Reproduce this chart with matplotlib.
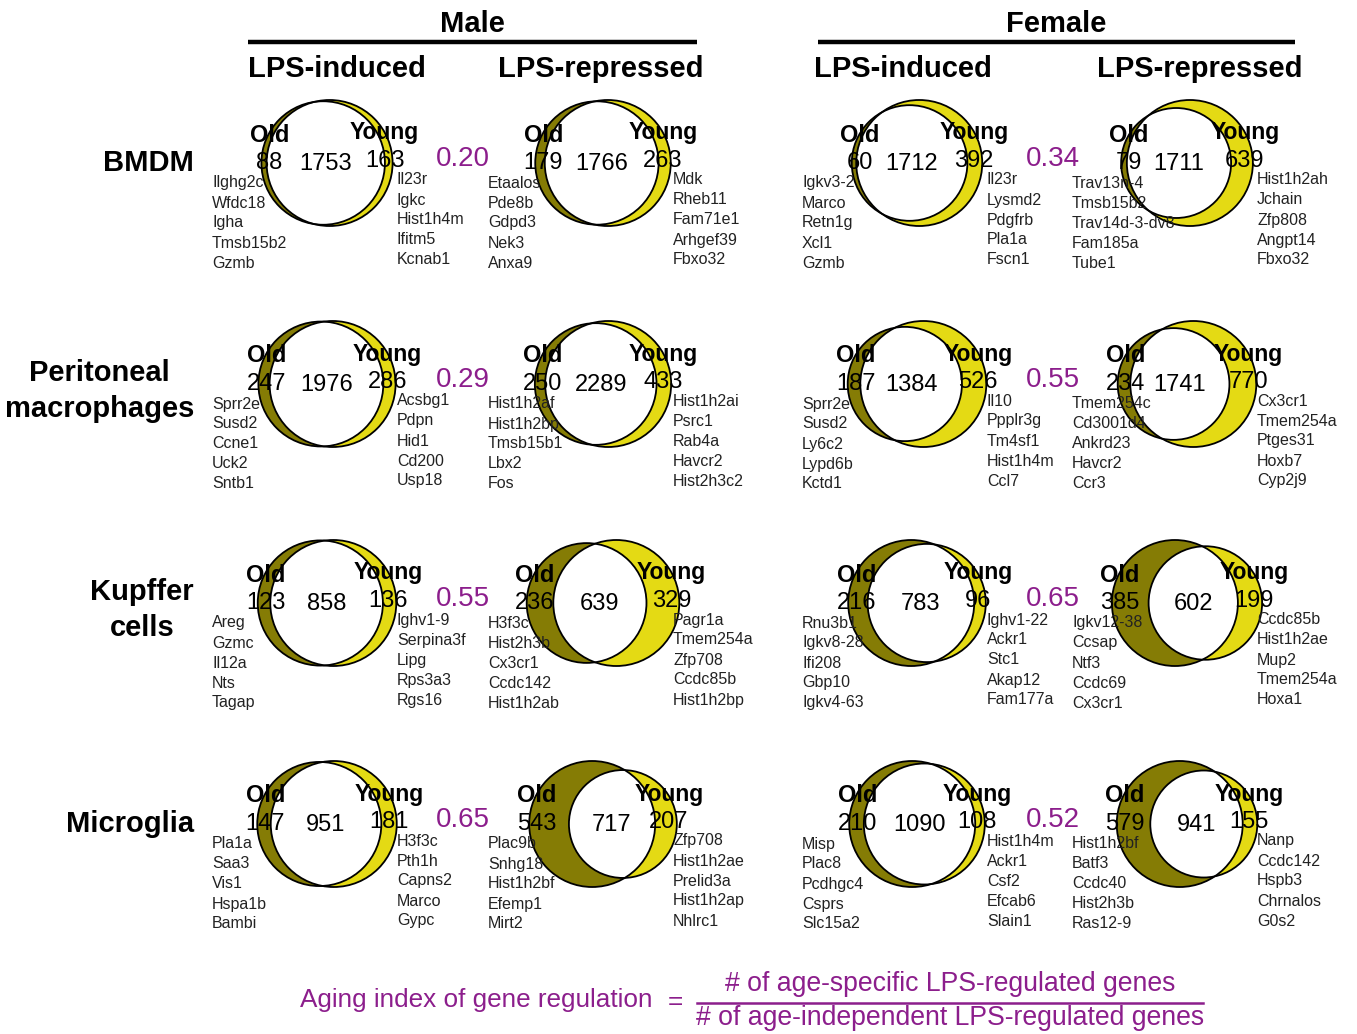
import numpy as np
import matplotlib
matplotlib.use("Agg")
import matplotlib.pyplot as plt
from matplotlib.patches import Circle

plt.rcParams['font.family'] = ['Liberation Sans', 'DejaVu Sans']

# ---- data ----
sexes = ['Male', 'Female']
panels = ['LPS-induced', 'LPS-repressed', 'LPS-induced', 'LPS-repressed']
cells = ['BMDM', 'Peritoneal\nmacrophages', 'Kupffer\ncells', 'Microglia']

# rows = cell types, cols = male induced, male repressed, female induced, female repressed
old_only = [[88, 179, 60, 79],
            [247, 250, 187, 234],
            [123, 236, 216, 385],
            [147, 543, 210, 579]]
shared = [[1753, 1766, 1712, 1711],
          [1976, 2289, 1384, 1741],
          [858, 639, 783, 602],
          [951, 717, 1090, 941]]
young_only = [[163, 263, 392, 639],
              [286, 433, 526, 770],
              [136, 329, 96, 199],
              [181, 207, 108, 155]]

old_genes = [
    [['Ilghg2c', 'Wfdc18', 'Igha', 'Tmsb15b2', 'Gzmb'],
     ['Etaalos', 'Pde8b', 'Gdpd3', 'Nek3', 'Anxa9'],
     ['Igkv3-2', 'Marco', 'Retn1g', 'Xcl1', 'Gzmb'],
     ['Trav13n-4', 'Tmsb15b2', 'Trav14d-3-dv8', 'Fam185a', 'Tube1']],
    [['Sprr2e', 'Susd2', 'Ccne1', 'Uck2', 'Sntb1'],
     ['Hist1h2af', 'Hist1h2bp', 'Tmsb15b1', 'Lbx2', 'Fos'],
     ['Sprr2e', 'Susd2', 'Ly6c2', 'Lypd6b', 'Kctd1'],
     ['Tmem254c', 'Cd3001d4', 'Ankrd23', 'Havcr2', 'Ccr3']],
    [['Areg', 'Gzmc', 'Il12a', 'Nts', 'Tagap'],
     ['H3f3c', 'Hist2h3b', 'Cx3cr1', 'Ccdc142', 'Hist1h2ab'],
     ['Rnu3b1', 'Igkv8-28', 'Ifi208', 'Gbp10', 'Igkv4-63'],
     ['Igkv12-38', 'Ccsap', 'Ntf3', 'Ccdc69', 'Cx3cr1']],
    [['Pla1a', 'Saa3', 'Vis1', 'Hspa1b', 'Bambi'],
     ['Plac9b', 'Snhg18', 'Hist1h2bf', 'Efemp1', 'Mirt2'],
     ['Misp', 'Plac8', 'Pcdhgc4', 'Csprs', 'Slc15a2'],
     ['Hist1h2bf', 'Batf3', 'Ccdc40', 'Hist2h3b', 'Ras12-9']],
]
young_genes = [
    [['Il23r', 'Igkc', 'Hist1h4m', 'Ifitm5', 'Kcnab1'],
     ['Mdk', 'Rheb11', 'Fam71e1', 'Arhgef39', 'Fbxo32'],
     ['Il23r', 'Lysmd2', 'Pdgfrb', 'Pla1a', 'Fscn1'],
     ['Hist1h2ah', 'Jchain', 'Zfp808', 'Angpt14', 'Fbxo32']],
    [['Acsbg1', 'Pdpn', 'Hid1', 'Cd200', 'Usp18'],
     ['Hist1h2ai', 'Psrc1', 'Rab4a', 'Havcr2', 'Hist2h3c2'],
     ['Il10', 'Ppplr3g', 'Tm4sf1', 'Hist1h4m', 'Ccl7'],
     ['Cx3cr1', 'Tmem254a', 'Ptges31', 'Hoxb7', 'Cyp2j9']],
    [['Ighv1-9', 'Serpina3f', 'Lipg', 'Rps3a3', 'Rgs16'],
     ['Pagr1a', 'Tmem254a', 'Zfp708', 'Ccdc85b', 'Hist1h2bp'],
     ['Ighv1-22', 'Ackr1', 'Stc1', 'Akap12', 'Fam177a'],
     ['Ccdc85b', 'Hist1h2ae', 'Mup2', 'Tmem254a', 'Hoxa1']],
    [['H3f3c', 'Pth1h', 'Capns2', 'Marco', 'Gypc'],
     ['Zfp708', 'Hist1h2ae', 'Prelid3a', 'Hist1h2ap', 'Nhlrc1'],
     ['Hist1h4m', 'Ackr1', 'Csf2', 'Efcab6', 'Slain1'],
     ['Nanp', 'Ccdc142', 'Hspb3', 'Chrnalos', 'G0s2']],
]

OLD_C = '#857c05'
YOUNG_C = '#e4da14'
PURPLE = '#8c1e8c'
GENE_C = '#222222'

col_x = [327, 603, 917, 1187]
row_y = [163, 384, 603, 824]
R_MAX = 63.0


def lens_area(r1, r2, d):
    if d >= r1 + r2:
        return 0.0
    if d <= abs(r1 - r2):
        return np.pi * min(r1, r2) ** 2
    a1 = r1 ** 2 * np.arccos((d * d + r1 * r1 - r2 * r2) / (2 * d * r1))
    a2 = r2 ** 2 * np.arccos((d * d + r2 * r2 - r1 * r1) / (2 * d * r2))
    a3 = 0.5 * np.sqrt((-d + r1 + r2) * (d + r1 - r2) * (d - r1 + r2) * (d + r1 + r2))
    return a1 + a2 - a3


def venn_geometry(n_old, n_both, n_young):
    # area-proportional circles, larger one fixed at R_MAX
    tot_o = n_old + n_both
    tot_y = n_young + n_both
    k = np.pi * R_MAX ** 2 / max(tot_o, tot_y)
    ro = np.sqrt(tot_o * k / np.pi)
    ry = np.sqrt(tot_y * k / np.pi)
    target = n_both * k
    lo, hi = abs(ro - ry), ro + ry
    for _ in range(60):
        mid = 0.5 * (lo + hi)
        if lens_area(ro, ry, mid) > target:
            lo = mid
        else:
            hi = mid
    return ro, ry, 0.5 * (lo + hi)


fig = plt.figure(figsize=(13.57, 10.34), dpi=100)
ax = fig.add_axes([0, 0, 1, 1])
ax.set_xlim(0, 1357)
ax.set_ylim(1034, 0)
ax.axis('off')

# headers
for i, sex in enumerate(sexes):
    x0, x1 = (248, 697) if i == 0 else (818, 1295)
    ax.text((x0 + x1) / 2, 24, sex, ha='center', va='center', fontsize=21, fontweight='bold')
    ax.plot([x0, x1], [42, 42], color='black', lw=3.2, solid_capstyle='butt')
for j, p in enumerate(panels):
    hx = [337, 601, 903, 1200][j]
    ax.text(hx, 69, p, ha='center', va='center', fontsize=21, fontweight='bold')

for i, cell in enumerate(cells):
    ax.text(194, row_y[i] + (7 if '\n' in cell else 0), cell, ha='right', va='center',
            multialignment='center', fontsize=21, fontweight='bold', linespacing=1.4)

for i in range(4):
    cy = row_y[i]
    for j in range(4):
        ro, ry, d = venn_geometry(old_only[i][j], shared[i][j], young_only[i][j])
        left = min(-ro, d - ry)
        right = max(ro, d + ry)
        ox = col_x[j] - (left + right) / 2
        yx = ox + d

        c_old = Circle((ox, cy), ro, fc=OLD_C, ec='none', zorder=1)
        c_young = Circle((yx, cy), ry, fc=YOUNG_C, ec='none', zorder=1)
        ax.add_patch(c_old)
        ax.add_patch(c_young)
        inter = Circle((ox, cy), ro, fc='white', ec='none', zorder=2)
        ax.add_patch(inter)
        inter.set_clip_path(c_young)
        ax.add_patch(Circle((ox, cy), ro, fill=False, ec='black', lw=1.3, zorder=3))
        ax.add_patch(Circle((yx, cy), ry, fill=False, ec='black', lw=1.3, zorder=3))

        lens_x = 0.5 * (max(ox - ro, yx - ry) + min(ox + ro, yx + ry))
        old_x = ox - ro + 8
        young_x = yx + ry - 8
        ax.text(old_x, cy - 28, 'Old', ha='center', va='center', fontsize=17,
                fontweight='bold', zorder=5)
        ax.text(young_x, cy - 30, 'Young', ha='center', va='center', fontsize=16.5,
                fontweight='bold', zorder=5)
        ax.text(old_x, cy, str(old_only[i][j]), ha='center', va='center', fontsize=17, zorder=5)
        ax.text(lens_x, cy + 1, str(shared[i][j]), ha='center', va='center', fontsize=17, zorder=5)
        ax.text(young_x, cy - 2, str(young_only[i][j]), ha='center', va='center', fontsize=17, zorder=5)

        for k, g in enumerate(old_genes[i][j]):
            ax.text(col_x[j] - 115, cy + 20 + 20 * k, g, ha='left', va='center',
                    fontsize=11.5, color=GENE_C, zorder=5)
        for k, g in enumerate(young_genes[i][j]):
            ax.text(col_x[j] + 70, cy + 17 + 20 * k, g, ha='left', va='center',
                    fontsize=11.5, color=GENE_C, zorder=5)

    # aging index: age-specific / age-independent, induced + repressed
    for s in range(2):
        cols = [2 * s, 2 * s + 1]
        spec = sum(old_only[i][c] + young_only[i][c] for c in cols)
        indep = sum(shared[i][c] for c in cols)
        ax.text((col_x[cols[0]] + col_x[cols[1]]) / 2 + 3 * s - 2, cy - 4, f'{spec / indep:.2f}',
                ha='center', va='center', fontsize=20, color=PURPLE, zorder=5)

# formula
ax.text(300, 1000, 'Aging index of gene regulation', ha='left', va='center',
        fontsize=18.8, color=PURPLE)
ax.text(675, 1002, '=', ha='center', va='center', fontsize=18.8, color=PURPLE)
ax.text(950, 984, '# of age-specific LPS-regulated genes', ha='center', va='center',
        fontsize=19.2, color=PURPLE)
ax.plot([697, 1203], [1003, 1003], color=PURPLE, lw=1.8)
ax.text(950, 1018, '# of age-independent LPS-regulated genes', ha='center', va='center',
        fontsize=19.2, color=PURPLE)

fig.savefig('out.png', dpi=100)
